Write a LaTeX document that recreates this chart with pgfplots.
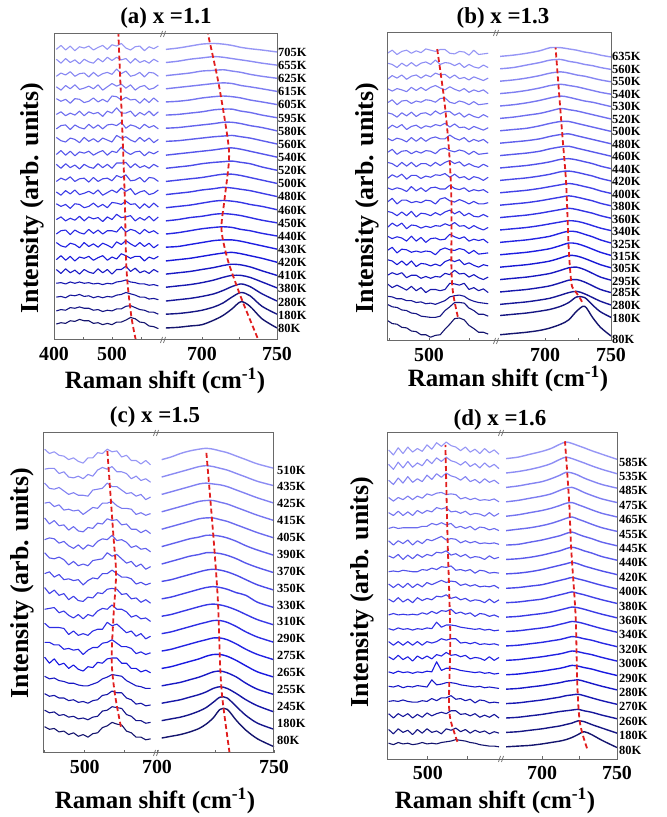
\documentclass[border=0pt]{standalone}
\usepackage{fontspec}
\setmainfont{Liberation Serif}
\usepackage{pgfplots}
\usepackage{pgfplotstable}
\pgfplotsset{compat=1.18}

\definecolor{cdark}{RGB}{20,20,110}
\definecolor{cmid}{RGB}{25,25,225}
\definecolor{clight}{RGB}{150,150,245}
\definecolor{fgray}{RGB}{105,105,105}
\definecolor{dred}{RGB}{225,30,30}

\newcommand\mkcolors[2]{%
  \pgfplotsforeachungrouped \ci in {0,...,#2}{%
    \pgfmathsetmacro\tval{\ci/#2}%
    \pgfmathtruncatemacro\pa{min(100,\tval*400)}%
    \pgfmathtruncatemacro\pb{max(0,(\tval-0.25)/0.75*100)}%
    \colorlet{#1\ci}{clight!\pb!cmid!\pa!cdark}%
  }}
\mkcolors{ca}{21}
\mkcolors{cb}{22}
\mkcolors{cc}{16}
\mkcolors{cd}{20}

% ---------------- panel (a): x = 1.1 ----------------
\pgfplotstableread[header=has colnames]{
name 404 412 420 428 436 444 452 460 468 476 484 492 500 508 516 524 532 540 548 556 564 572 580
c0 6 8 7 11 10 13 11 11 7 8 5 7 5 9 9 12 16 14 9 8 3 2 -1
c1 26 28 27 31 30 32 30 30 27 28 25 27 26 29 29 33 34 31 28 27 24 24 21
c2 47 48 46 50 49 51 48 49 46 48 46 48 47 50 51 54 52 50 47 47 44 45 43
c3 68 69 67 70 68 70 68 69 67 68 66 68 67 70 71 73 70 69 67 67 65 66 64
c4 89 83 90 84 88 82 89 85 83 90 84 89 82 89 89 94 86 91 84 87 83 89 85
c5 104 110 103 109 102 108 106 109 103 107 110 103 108 105 113 110 106 109 109 102 108 105 109
c6 130 125 123 129 127 122 130 124 128 123 129 126 122 131 127 133 128 124 130 124 129 122 127
c7 143 148 149 142 149 145 143 150 144 149 143 148 148 146 154 146 150 148 143 150 145 148 143
c8 165 169 163 167 164 170 163 169 166 168 162 169 165 173 168 169 171 163 168 164 170 163 169
c9 189 185 188 182 189 188 183 185 190 184 188 183 191 190 188 193 188 189 182 189 183 190 184
c10 207 202 209 204 210 203 205 208 204 210 202 206 210 206 213 208 212 203 207 209 203 205 210
c11 223 228 225 230 223 227 228 222 229 223 227 228 224 232 229 233 224 225 229 222 229 228 223
c12 249 243 250 244 248 242 249 245 243 250 244 249 243 251 251 252 244 250 244 247 243 249 245
c13 264 270 263 269 262 268 266 269 263 267 270 263 269 267 275 268 264 268 269 262 268 265 269
c14 290 285 283 289 287 282 290 284 288 283 289 286 283 293 289 291 286 283 290 284 289 282 287
c15 303 308 309 302 309 305 303 310 304 309 303 309 310 308 313 304 309 307 303 310 305 308 303
c16 325 329 323 327 324 330 323 329 326 328 322 330 327 335 327 327 330 322 328 324 330 323 329
c17 349 345 348 342 349 348 343 345 350 344 348 344 353 352 347 351 347 348 342 349 343 350 344
c18 367 362 369 364 370 363 365 368 364 370 362 367 372 368 371 365 370 362 367 369 363 365 370
c19 383 388 385 390 383 387 388 382 389 383 387 389 386 394 387 391 383 385 389 382 389 388 383
c20 409 403 410 404 408 402 409 405 403 410 405 412 407 412 408 410 403 410 404 407 403 409 405
c21 424 430 423 429 422 428 426 429 423 427 430 424 431 429 433 426 423 428 429 422 428 425 429
}\rawAL
\pgfplotstabletranspose[colnames from=name]{\tAL}{\rawAL}

\pgfplotstableread[header=has colnames]{
name 676 684 692 700 708 714 720 726 732 740 750
c0 0 1 3 5 12 19 29 40 33 14 0
c1 21 22 24 27 32 38 47 54 49 33 21
c2 41 43 45 48 52 57 63 67 63 52 41
c3 62 64 66 69 73 77 80 80 77 70 61
c4 82 84 86 89 92 95 97 96 93 87 80
c5 102 104 106 109 112 114 115 113 110 106 100
c6 123 124 127 130 133 134 134 132 129 125 120
c7 143 145 148 151 153 154 153 150 148 144 140
c8 163 165 168 170 173 174 173 171 168 164 160
c9 183 185 187 190 193 194 193 191 188 185 180
c10 203 205 207 210 212 214 213 211 209 205 200
c11 223 225 227 229 232 234 234 232 229 225 220
c12 243 245 247 250 252 253 254 252 250 245 240
c13 263 265 267 269 271 273 274 272 269 265 260
c14 284 285 287 289 291 292 293 291 289 285 280
c15 304 305 307 309 311 313 313 311 308 305 300
c16 324 325 327 329 332 333 333 330 328 324 320
c17 344 345 347 350 352 353 352 350 347 344 340
c18 364 366 368 370 372 373 372 369 367 364 360
c19 384 386 388 391 392 393 391 389 386 383 380
c20 404 406 409 411 413 412 410 408 406 403 400
c21 424 426 429 432 433 432 430 427 425 423 420
}\rawAR
\pgfplotstabletranspose[colnames from=name]{\tAR}{\rawAR}

% ---------------- panel (b): x = 1.3 ----------------
\pgfplotstableread[header=has colnames]{
name 448 454 460 466 472 478 484 490 496 502 508 514 520 526 532 538 544 550 556 562 568 574
c0 25 20 19 14 13 8 7 2 2 -2 1 2 11 19 28 29 26 17 12 6 6 3
c1 51 47 46 42 41 37 36 32 31 30 30 32 41 47 54 54 53 45 41 35 35 32
c2 64 63 60 60 57 57 54 55 52 53 51 54 57 63 65 66 64 59 56 54 53 52
c3 84 78 82 78 74 80 73 78 70 75 75 73 75 85 84 82 85 75 78 73 76 70
c4 98 102 99 102 94 98 98 93 96 93 96 95 101 99 106 100 101 95 99 94 91 95
c5 123 121 115 121 114 121 112 117 116 113 116 113 120 123 120 123 115 118 114 111 115 113
c6 138 143 134 140 139 135 137 135 137 136 131 139 142 139 138 141 139 133 138 132 133 134
c7 161 157 160 158 153 161 153 159 151 157 158 155 156 164 160 157 160 153 156 154 156 150
c8 175 182 177 182 173 179 178 174 177 175 178 177 181 178 183 177 178 173 178 174 171 175
c9 201 199 194 200 194 201 192 198 197 194 199 195 200 203 197 201 194 198 193 192 196 192
c10 216 222 213 219 219 215 217 215 219 218 213 221 223 218 216 220 217 213 217 213 213 215
c11 239 236 239 237 233 241 234 239 233 239 240 237 237 243 238 236 239 233 236 234 236 231
c12 254 260 256 261 253 259 259 254 258 256 260 259 262 256 261 255 257 252 257 255 251 256
c13 280 278 273 280 274 280 273 278 278 274 280 275 280 283 278 281 274 278 274 272 277 273
c14 296 301 293 298 299 294 298 295 299 298 294 301 303 299 297 300 298 293 298 293 294 295
c15 319 315 319 317 313 320 314 320 314 319 321 318 318 324 319 316 320 313 317 314 317 311
c16 334 340 336 341 333 338 340 335 339 337 341 339 343 337 342 336 337 333 338 335 332 336
c17 360 358 353 360 355 361 354 359 360 356 363 358 362 362 356 360 353 358 354 352 357 353
c18 376 381 373 379 380 375 379 377 381 380 377 383 384 377 375 379 377 373 378 373 374 375
c19 399 395 399 397 394 401 396 401 396 401 404 400 397 402 398 395 399 393 397 394 397 391
c20 414 420 416 421 414 419 421 416 421 418 424 421 422 416 421 415 417 413 418 415 412 416
c21 440 438 433 440 435 441 435 440 442 438 445 438 441 440 436 440 433 438 434 432 437 433
c22 456 461 454 459 461 456 460 457 463 461 459 462 462 456 455 459 458 453 461 454 455 456
}\rawBL
\pgfplotstabletranspose[colnames from=name]{\tBL}{\rawBL}

\pgfplotstableread[header=has colnames]{
name 666 676 686 696 704 712 718 724 730 736 742 750
c0 2 4 6 9 13 19 26 40 48 30 14 0
c1 33 35 37 40 43 48 54 63 62 50 39 30
c2 51 53 55 58 61 66 70 72 68 62 56 50
c3 71 73 75 78 81 86 90 91 87 81 75 70
c4 91 93 95 98 101 106 110 111 107 101 95 90
c5 111 113 115 118 121 126 130 129 125 120 115 110
c6 131 133 135 138 141 146 150 149 145 140 135 130
c7 151 153 155 158 161 166 169 168 164 160 155 150
c8 171 173 175 178 181 184 186 185 182 178 174 170
c9 191 193 195 198 201 204 206 204 201 198 194 190
c10 211 213 215 218 221 224 226 224 221 218 214 210
c11 231 233 235 238 241 244 246 244 241 238 234 230
c12 251 253 255 258 261 265 266 264 261 258 254 250
c13 271 273 275 278 281 285 286 284 281 278 274 270
c14 291 293 295 298 302 305 306 303 300 297 294 290
c15 311 313 315 318 322 325 326 323 320 317 314 310
c16 331 333 335 339 343 346 346 343 340 337 334 330
c17 351 353 356 359 363 367 365 363 360 357 354 350
c18 371 373 376 380 384 387 385 382 379 377 374 370
c19 391 393 396 400 404 406 404 402 399 396 393 390
c20 411 413 416 420 424 426 424 421 419 416 413 410
c21 431 433 437 441 445 446 443 441 438 436 433 430
c22 451 453 456 460 465 465 463 461 458 456 453 450
}\rawBR
\pgfplotstabletranspose[colnames from=name]{\tBR}{\rawBR}

% ---------------- panel (c): x = 1.5 ----------------
\pgfplotstableread[header=has colnames]{
name 450 456 462 468 474 480 486 492 498 504 510 516 522 528 534 540 546 552 558 564 570 576 582
c0 23 20 21 17 18 14 16 12 14 11 15 16 22 24 28 26 25 18 16 11 11 8 9
c1 42 39 40 36 37 34 35 32 33 31 34 35 41 42 46 45 44 37 35 30 30 27 28
c2 61 58 59 56 56 53 54 51 52 50 53 54 59 60 64 62 62 56 54 49 50 47 48
c3 81 78 79 76 75 73 73 71 70 70 72 74 78 80 83 82 81 76 73 70 69 67 67
c4 103 96 101 94 96 90 94 89 87 92 91 97 96 101 102 102 96 96 90 90 86 88 85
c5 120 120 117 117 112 113 111 112 106 111 114 114 119 120 123 119 115 115 113 107 109 106 108
c6 142 137 137 137 136 129 133 128 130 128 133 135 135 143 139 141 136 131 133 127 130 124 127
c7 158 159 160 154 156 151 148 152 147 152 150 156 159 158 163 158 158 155 149 151 147 148 144
c8 183 176 180 174 176 169 173 168 167 172 171 177 176 181 182 181 175 176 170 171 166 169 165
c9 199 201 195 198 192 193 191 192 186 191 194 193 199 199 203 199 195 195 193 187 189 186 188
c10 223 217 216 218 215 209 213 208 210 208 214 215 216 223 219 221 216 211 213 207 210 204 207
c11 238 240 239 234 236 231 228 232 227 232 230 236 239 238 243 237 238 235 229 231 227 228 224
c12 263 256 260 254 255 249 253 248 247 252 251 257 256 262 260 261 255 256 250 250 246 249 245
c13 280 281 276 278 272 273 271 272 267 271 275 274 280 280 282 277 274 274 273 267 269 266 268
c14 303 297 296 298 294 290 292 289 289 288 295 296 297 303 299 299 295 291 292 288 290 284 287
c15 319 320 320 314 316 310 309 311 308 313 311 318 321 319 322 316 316 314 308 311 306 308 304
c16 342 337 339 335 334 330 332 328 326 332 332 338 337 342 339 340 333 335 329 329 325 329 324
}\rawCL
\pgfplotstabletranspose[colnames from=name]{\tCL}{\rawCL}

\pgfplotstableread[header=has colnames]{
name 702 706 710 714 718 721 724 727 730 734 738 743 750
c0 10 12 14 17 21 26 33 43 43 30 19 9 0
c1 30 32 34 37 41 45 51 57 56 46 36 27 20
c2 50 52 54 57 60 63 67 69 67 61 54 47 40
c3 70 72 74 77 80 83 86 87 85 80 73 66 60
c4 90 92 95 98 101 104 106 106 104 99 93 86 80
c5 110 112 115 118 121 123 125 125 123 118 112 106 100
c6 130 132 135 138 141 143 145 145 143 138 132 126 120
c7 150 152 155 158 161 163 164 163 161 157 152 146 140
c8 170 172 175 178 181 183 184 183 181 177 174 166 160
c9 190 192 195 198 201 203 204 203 201 197 192 186 180
c10 210 213 216 219 221 223 223 222 220 216 211 206 200
c11 230 233 236 239 241 243 243 242 240 236 231 226 220
c12 250 253 256 259 262 263 263 261 259 255 251 246 240
c13 270 273 276 279 282 283 283 281 279 275 271 266 260
c14 290 293 296 299 302 303 302 301 299 295 291 286 280
c15 310 313 316 319 322 323 322 320 318 314 310 305 300
c16 330 333 337 340 342 343 342 340 338 334 330 325 320
}\rawCR
\pgfplotstabletranspose[colnames from=name]{\tCR}{\rawCR}

% ---------------- panel (d): x = 1.6 ----------------
\pgfplotstableread[header=has colnames]{
name 451 457 463 469 475 481 487 493 499 505 511 517 523 529 535 541 547 553 559 565 571 577 583 589
c0 7 5 8 6 7 5 6 8 6 7 6 8 9 10 12 11 10 8 7 5 4 3 3 2
c1 26 20 27 22 25 19 26 21 27 22 24 20 27 25 28 23 26 21 25 22 24 20 23 21
c2 48 42 48 44 48 42 47 43 49 45 48 50 48 52 52 47 48 45 48 43 46 43 47 42
c3 65 66 65 67 65 64 64 66 65 69 66 70 70 73 68 69 66 68 63 67 66 63 64 63
c4 86 85 87 84 86 85 87 86 85 95 88 89 91 91 90 88 87 86 85 86 84 85 84 83
c5 106 104 107 105 106 104 106 105 107 106 120 108 111 111 110 108 107 106 105 106 104 105 103 104
c6 127 123 129 123 127 121 128 124 128 124 130 128 133 129 130 127 129 124 126 125 122 127 122 126
c7 148 143 148 143 148 143 148 143 148 146 148 152 150 152 152 146 147 145 147 144 145 144 145 143
c8 166 164 167 165 166 164 166 165 167 166 175 168 171 171 170 168 167 166 165 166 164 165 163 164
c9 185 187 185 186 185 186 185 188 186 190 187 191 190 193 187 189 186 188 183 187 186 183 185 182
c10 207 203 209 203 207 202 209 205 208 206 211 210 213 208 210 206 208 204 206 205 202 207 202 206
c11 228 223 228 223 229 223 228 224 230 227 230 233 230 232 231 226 228 225 227 224 225 224 226 222
c12 245 246 245 247 246 245 245 248 247 250 248 252 251 253 247 248 246 248 243 247 246 243 244 243
c13 267 264 269 262 268 263 269 265 269 267 272 271 274 268 270 266 269 264 266 265 262 267 263 265
c14 288 282 288 284 289 282 288 284 290 288 291 294 289 291 290 285 288 285 287 284 285 284 285 283
c15 305 307 305 306 306 306 306 308 308 312 310 313 310 312 306 308 305 308 303 307 306 303 305 302
c16 327 323 329 323 328 323 330 326 330 328 334 332 334 328 329 326 329 324 326 325 322 327 322 326
c17 348 343 348 345 350 345 350 347 353 351 354 355 352 353 352 346 348 345 347 344 345 344 346 342
c18 372 366 375 368 377 369 374 370 379 373 381 376 382 378 376 372 377 370 373 368 374 369 372 367
c19 394 387 397 389 398 390 396 392 401 395 403 398 404 399 397 393 398 391 395 389 396 390 394 388
c20 414 407 417 409 418 411 416 412 421 415 424 419 425 420 418 413 418 411 415 409 416 410 414 408
}\rawDL
\pgfplotstabletranspose[colnames from=name]{\tDL}{\rawDL}

\pgfplotstableread[header=has colnames]{
name 676 684 692 700 706 712 716 720 724 728 733 740 750
c0 2 3 4 6 8 10 12 15 19 23 19 11 1
c1 22 23 25 27 29 31 33 35 38 37 33 28 21
c2 42 43 45 47 49 51 52 53 54 52 50 46 41
c3 62 63 65 67 69 71 73 74 75 73 70 66 61
c4 82 83 85 87 89 91 93 94 95 93 90 86 81
c5 102 103 105 107 109 111 113 115 114 112 110 106 101
c6 122 123 125 127 129 131 133 135 134 132 130 126 121
c7 142 143 145 147 149 151 153 155 154 152 150 146 141
c8 162 163 165 167 169 172 174 176 175 173 170 166 161
c9 182 183 185 187 189 192 194 196 195 193 190 186 181
c10 202 203 205 207 210 213 215 217 215 213 210 206 201
c11 222 223 225 227 230 233 235 237 235 233 230 226 221
c12 242 243 245 248 251 254 256 258 256 253 250 246 241
c13 262 263 265 268 271 274 277 279 277 274 271 266 261
c14 282 283 286 289 292 295 298 300 297 294 291 286 281
c15 302 304 306 309 312 316 319 321 318 315 311 306 301
c16 322 324 327 330 333 337 340 341 338 335 331 326 321
c17 342 344 347 350 353 358 361 362 359 355 351 346 341
c18 362 364 367 370 374 379 383 382 379 375 371 366 361
c19 382 384 387 391 395 401 404 402 399 396 392 387 381
c20 402 404 408 412 416 422 425 423 420 417 413 408 401
}\rawDR
\pgfplotstabletranspose[colnames from=name]{\tDR}{\rawDR}

\pgfplotsset{
  rbase/.style={scale only axis, anchor=south west, clip=false,
    axis line style={draw=none}, ytick=\empty,
    xtick pos=left, tick align=inside, major tick length=3bp,
    tick style={fgray, line width=0.8bp},
    xticklabel style={font=\bfseries\fontsize{20}{20}\selectfont, text=black, yshift=-4bp}},
}
\tikzset{
  tlab/.style={anchor=west, inner sep=0pt, font=\bfseries\fontsize{12.5}{12.5}\selectfont},
  ttl/.style={font=\bfseries\fontsize{23}{23}\selectfont},
  xlab/.style={font=\bfseries\fontsize{25}{25}\selectfont},
  ylab/.style={rotate=90, font=\bfseries\fontsize{26}{26}\selectfont},
  rdash/.style={dred, line width=1.8bp, dash pattern=on 5bp off 3bp},
  lcurve/.style={line width=1.1bp, line join=round},
  rcurve/.style={line width=1.4bp, line join=round, smooth},
  brk/.style={fgray, line width=0.7bp},
}
\newcommand\leftframe{\draw[fgray, line width=1bp] (rel axis cs:1,0) -- (rel axis cs:0,0) -- (rel axis cs:0,1) -- (rel axis cs:1,1);}
\newcommand\rightframe{\draw[fgray, line width=1bp] (rel axis cs:0,0) -- (rel axis cs:1,0) -- (rel axis cs:1,1) -- (rel axis cs:0,1);
  \draw[brk] ([xshift=-3.5bp,yshift=-3bp]rel axis cs:0,0) -- ([xshift=-1.5bp,yshift=3bp]rel axis cs:0,0);
  \draw[brk] ([xshift=-0.5bp,yshift=-3bp]rel axis cs:0,0) -- ([xshift=1.5bp,yshift=3bp]rel axis cs:0,0);
  \draw[brk] ([xshift=-3.5bp,yshift=-3bp]rel axis cs:0,1) -- ([xshift=-1.5bp,yshift=3bp]rel axis cs:0,1);
  \draw[brk] ([xshift=-0.5bp,yshift=-3bp]rel axis cs:0,1) -- ([xshift=1.5bp,yshift=3bp]rel axis cs:0,1);}

\begin{document}
\begin{tikzpicture}
\useasboundingbox (0,0) rectangle (667bp,817bp);

% ===== (a) =====
\begin{axis}[rbase, at={(54bp,477bp)}, width=110bp, height=306bp,
  xmin=400, xmax=589.7, ymin=-18.3, ymax=447.4,
  xtick={400,450,500,550}, xticklabels={400,,500,}]
\pgfplotsinvokeforeach{0,...,21}{\addplot[lcurve, draw=ca#1] table[x=colnames,y=c#1]{\tAL};}
\addplot[rdash, smooth] coordinates {(541,-18) (533,20) (525,90) (522,200) (517,320) (511,447)};
\leftframe
\end{axis}
\begin{axis}[rbase, at={(164bp,477bp)}, width=113bp, height=306bp,
  xmin=674.7, xmax=750, ymin=-18.3, ymax=447.4,
  xtick={700,725,750}, xticklabels={700,,750}]
\pgfplotsinvokeforeach{0,...,21}{\addplot[rcurve, draw=ca#1] table[x=colnames,y=c#1]{\tAR};}
\addplot[rdash, smooth] coordinates {(737,-15) (728,35) (723,65) (717,105) (713,150) (715,195) (718,255) (717,290) (711,373) (704,447)};
\rightframe
\end{axis}
\node[ttl] at (166bp,799bp) {(a) x =1.1};
\node[xlab] at (165bp,436bp) {Raman shift (cm\textsuperscript{-1})};
\node[ylab] at (32bp,619bp) {Intensity (arb. units)};
\foreach \t [count=\i from 0] in {80,180,280,380,410,420,430,440,450,460,480,500,520,540,560,580,595,605,615,625,655,705}
  {\node[tlab] at (278bp,{488.7bp+13.14bp*\i}) {\t K};}

% ===== (b) =====
\begin{axis}[rbase, at={(387bp,476bp)}, width=110bp, height=308bp,
  xmin=447.5, xmax=585, ymin=-8.1, ymax=488.7,
  xtick={450,500,550}, xticklabels={,500,}]
\pgfplotsinvokeforeach{0,...,22}{\addplot[lcurve, draw=cb#1] table[x=colnames,y=c#1]{\tBL};}
\addplot[rdash, smooth] coordinates {(536,31) (530,70) (528,112) (528,219) (525,300) (519,381) (510,465)};
\leftframe
\end{axis}
\begin{axis}[rbase, at={(497bp,476bp)}, width=114bp, height=308bp,
  xmin=663.6, xmax=750, ymin=-8.1, ymax=488.7,
  xtick={700,725,750}, xticklabels={700,,750}]
\pgfplotsinvokeforeach{0,...,22}{\addplot[rcurve, draw=cb#1] table[x=colnames,y=c#1]{\tBR};}
\addplot[rdash, smooth] coordinates {(728,55) (726,63) (722,75) (720,85) (718,139) (716,246) (713,327) (708,465)};
\rightframe
\end{axis}
\node[ttl] at (503bp,799bp) {(b) x =1.3};
\node[xlab] at (508bp,438bp) {Raman shift (cm\textsuperscript{-1})};
\node[ylab] at (367bp,619bp) {Intensity (arb. units)};
\foreach \t/\yy in {80/478,180/499,280/512,285/524.5,295/536,305/548.2,315/560.5,325/572.8,340/585.3,360/597.8,380/610.3,400/622.8,420/635.3,440/647.8,460/660.3,480/672.8,500/685.3,520/697.8,530/710.3,540/722.8,550/735.3,560/747.8,635/760.3}
  {\node[tlab] at (612bp,\yy bp) {\t K};}

% ===== (c) =====
\begin{axis}[rbase, at={(43bp,64bp)}, width=114bp, height=320bp,
  xmin=448, xmax=590, ymin=-7.2, ymax=360.6,
  xtick={450,500,550}, xticklabels={,500,}]
\pgfplotsinvokeforeach{0,...,16}{\addplot[lcurve, draw=cc#1] table[x=colnames,y=c#1]{\tCL};}
\addplot[rdash, smooth] coordinates {(545,23) (537.5,61) (533.5,100) (536,153) (539,199) (535.5,245) (528,342)};
\leftframe
\end{axis}
\begin{axis}[rbase, at={(157bp,64bp)}, width=117bp, height=320bp,
  xmin=700, xmax=750, ymin=-7.2, ymax=360.6,
  xtick={700,725,750}, xticklabels={700,,750}]
\pgfplotsinvokeforeach{0,...,16}{\addplot[rcurve, draw=cc#1] table[x=colnames,y=c#1]{\tCR};}
\addplot[rdash, smooth] coordinates {(731,-7) (728,54) (727,92) (726,169) (724,245) (721,341)};
\rightframe
\end{axis}
\node[ttl] at (155bp,400bp) {(c) x =1.5};
\node[xlab] at (155bp,16bp) {Raman shift (cm\textsuperscript{-1})};
\node[ylab] at (22bp,234bp) {Intensity (arb. units)};
\foreach \t [count=\i from 0] in {80,180,245,255,265,275,290,310,330,350,370,390,405,415,425,435,510}
  {\node[tlab] at (277bp,{77bp+16.875bp*\i}) {\t K};}

% ===== (d) =====
\begin{axis}[rbase, at={(387bp,58bp)}, width=115bp, height=326bp,
  xmin=449, xmax=592.75, ymin=-14.9, ymax=437.5,
  xtick={450,500,550}, xticklabels={,500,}]
\pgfplotsinvokeforeach{0,...,20}{\addplot[lcurve, draw=cd#1] table[x=colnames,y=c#1]{\tDL};}
\addplot[rdash, smooth] coordinates {(537,9) (528.5,39) (526.5,67) (528,160) (524.5,299) (522,421)};
\leftframe
\end{axis}
\begin{axis}[rbase, at={(502bp,58bp)}, width=115bp, height=326bp,
  xmin=673.3, xmax=750, ymin=-14.9, ymax=437.5,
  xtick={700,725,750}, xticklabels={700,,750}]
\pgfplotsinvokeforeach{0,...,20}{\addplot[rcurve, draw=cd#1] table[x=colnames,y=c#1]{\tDR};}
\addplot[rdash, smooth] coordinates {(730,0) (725.3,35) (723.5,90) (722.4,183) (719.5,275) (718,345) (715.3,426)};
\rightframe
\end{axis}
\node[ttl] at (500bp,397bp) {(d) x =1.6};
\node[xlab] at (495bp,16bp) {Raman shift (cm\textsuperscript{-1})};
\node[ylab] at (362bp,225bp) {Intensity (arb. units)};
\foreach \t [count=\i from 0] in {80,180,260,270,280,290,300,320,340,360,380,400,420,440,445,455,465,475,485,535,585}
  {\node[tlab] at (619bp,{67bp+14.4bp*\i}) {\t K};}

\end{tikzpicture}
\end{document}
